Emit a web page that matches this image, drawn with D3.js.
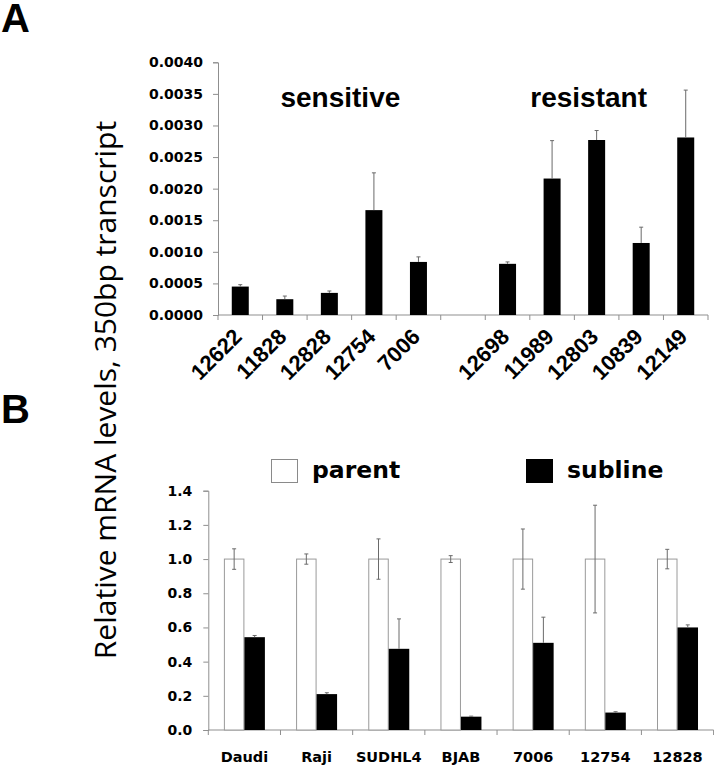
<!DOCTYPE html>
<html>
<head>
<meta charset="utf-8">
<script src="https://cdn.jsdelivr.net/npm/d3@7"></script>
<style>
  html, body { margin: 0; padding: 0; background: #fff; }
  svg { display: block; }
</style>
</head>
<body>
<svg id="chart" width="714" height="767"></svg>
<script>
// ---------- Data ----------
const sensitiveLines = ["12622", "11828", "12828", "12754", "7006"];
const resistantLines = ["12698", "11989", "12803", "10839", "12149"];
const sensitiveValues = [0.00045, 0.00025, 0.00035, 0.00166, 0.00084];
const sensitiveErrors = [0.00003, 0.00005, 0.00003, 0.00059, 0.00008];
const resistantValues = [0.00081, 0.00216, 0.00277, 0.00114, 0.00281];
const resistantErrors = [0.00003, 0.00060, 0.00015, 0.00025, 0.00075];
const yTicksA = [0, 0.0005, 0.001, 0.0015, 0.002, 0.0025, 0.003, 0.0035, 0.004];

const cellLines = ["Daudi", "Raji", "SUDHL4", "BJAB", "7006", "12754", "12828"];
const parentValues = [1.0, 1.0, 1.0, 1.0, 1.0, 1.0, 1.0];
const parentErrors = [0.06, 0.03, 0.118, 0.02, 0.176, 0.315, 0.057];
const sublineValues = [0.543, 0.21, 0.475, 0.078, 0.51, 0.102, 0.60];
const sublineErrors = [0.01, 0.008, 0.175, 0.003, 0.15, 0.005, 0.015];
const yTicksB = [0, 0.2, 0.4, 0.6, 0.8, 1.0, 1.2, 1.4];
const legendLabels = ["parent", "subline"];

const svg = d3.select("#chart");
const axisColor = "#8f8f8f";
const errColor = "#6a6a6a";
const boldWide = "'DejaVu Sans', Verdana, sans-serif";
const boldArial = "'Liberation Sans', Arial, Helvetica, sans-serif";

// Panel letters
svg.append("text").attr("x", 1).attr("y", 32).text("A")
  .attr("font-family", boldArial).attr("font-weight", "bold").attr("font-size", 40).attr("fill", "#000");
svg.append("text").attr("x", 1).attr("y", 423).text("B")
  .attr("font-family", boldArial).attr("font-weight", "bold").attr("font-size", 40).attr("fill", "#000");

// Shared y title
svg.append("text")
  .attr("transform", "translate(116,390) rotate(-90)")
  .attr("text-anchor", "middle")
  .attr("font-family", "'Open Sans', 'Noto Sans', sans-serif")
  .attr("font-size", 30)
  .attr("fill", "#000")
  .text("Relative mRNA levels, 350bp transcript");

// ---------- Panel A ----------
const domainA = [...sensitiveLines, "__gap__", ...resistantLines];
const dataA = sensitiveLines.map((c, i) => ({ cat: c, v: sensitiveValues[i], e: sensitiveErrors[i] }))
  .concat(resistantLines.map((c, i) => ({ cat: c, v: resistantValues[i], e: resistantErrors[i] })));

const xA = d3.scaleBand().domain(domainA).range([218, 708]).padding(0);
const yA = d3.scaleLinear().domain([0, 0.004]).range([315, 62.3]);
const gA = svg.append("g");

// y axis A
const yAxisA = d3.axisLeft(yA).tickValues(yTicksA).tickFormat(d3.format(".4f")).tickSize(5).tickPadding(10);
const gyA = gA.append("g").attr("transform", "translate(218,0)").call(yAxisA);
gyA.select(".domain").attr("stroke", axisColor);
gyA.selectAll(".tick line").attr("stroke", axisColor);
gyA.selectAll(".tick text").attr("font-family", boldWide).attr("font-weight", "bold")
  .attr("font-size", 14).attr("fill", "#000");

// x axis A (line + boundary ticks)
gA.append("line").attr("x1", xA.range()[0]).attr("x2", xA.range()[1])
  .attr("y1", yA(0)).attr("y2", yA(0)).attr("stroke", axisColor);
const boundariesA = domainA.map(d => xA(d)).concat([xA.range()[1]]);
gA.selectAll(".xtickA").data(boundariesA).enter().append("line")
  .attr("x1", d => d).attr("x2", d => d).attr("y1", yA(0)).attr("y2", yA(0) + 5)
  .attr("stroke", axisColor);

// bars A
const barWA = 17;
gA.selectAll(".barA").data(dataA).enter().append("rect")
  .attr("x", d => xA(d.cat) + xA.bandwidth() / 2 - barWA / 2)
  .attr("y", d => yA(d.v))
  .attr("width", barWA)
  .attr("height", d => yA(0) - yA(d.v))
  .attr("fill", "#000");

// error bars A (upward)
const errA = gA.selectAll(".errA").data(dataA).enter().append("g");
errA.append("line")
  .attr("x1", d => xA(d.cat) + xA.bandwidth() / 2).attr("x2", d => xA(d.cat) + xA.bandwidth() / 2)
  .attr("y1", d => yA(d.v)).attr("y2", d => yA(d.v + d.e))
  .attr("stroke", errColor).attr("stroke-width", 1);
errA.append("line")
  .attr("x1", d => xA(d.cat) + xA.bandwidth() / 2 - 2).attr("x2", d => xA(d.cat) + xA.bandwidth() / 2 + 2)
  .attr("y1", d => yA(d.v + d.e)).attr("y2", d => yA(d.v + d.e))
  .attr("stroke", errColor).attr("stroke-width", 1);

// x labels A (rotated)
gA.selectAll(".xlabA").data(dataA).enter().append("text")
  .attr("transform", d => `translate(${xA(d.cat) + xA.bandwidth() / 2 + 3},${yA(0) + 23}) rotate(-45)`)
  .attr("text-anchor", "end")
  .attr("font-family", boldArial).attr("font-weight", "bold").attr("font-size", 22)
  .attr("fill", "#000")
  .text(d => d.cat);

// group titles
const groupTitles = [
  { t: "sensitive", cats: sensitiveLines, shift: 11 },
  { t: "resistant", cats: resistantLines, shift: -8 }
];
gA.selectAll(".grpT").data(groupTitles).enter().append("text")
  .attr("x", d => (xA(d.cats[0]) + xA(d.cats[d.cats.length - 1]) + xA.bandwidth()) / 2 + d.shift)
  .attr("y", 107)
  .attr("text-anchor", "middle")
  .attr("font-family", boldArial).attr("font-weight", "bold").attr("font-size", 28)
  .attr("fill", "#000")
  .text(d => d.t);

// ---------- Panel B ----------
const dataB = cellLines.map((c, i) => ({
  cat: c, p: parentValues[i], pe: parentErrors[i], s: sublineValues[i], se: sublineErrors[i]
}));
const xB = d3.scaleBand().domain(cellLines).range([208.3, 713.6]).padding(0);
const yB = d3.scaleLinear().domain([0, 1.4]).range([730, 490.7]);
const gB = svg.append("g");
const barWB = 20.5;

const yAxisB = d3.axisLeft(yB).tickValues(yTicksB).tickFormat(d3.format(".1f")).tickSize(5).tickPadding(11);
const gyB = gB.append("g").attr("transform", "translate(208.3,0)").call(yAxisB);
gyB.select(".domain").attr("stroke", axisColor);
gyB.selectAll(".tick line").attr("stroke", axisColor);
gyB.selectAll(".tick text").attr("font-family", boldWide).attr("font-weight", "bold")
  .attr("font-size", 14).attr("fill", "#000");

gB.append("line").attr("x1", xB.range()[0]).attr("x2", xB.range()[1])
  .attr("y1", yB(0)).attr("y2", yB(0)).attr("stroke", axisColor);
const boundariesB = cellLines.map(d => xB(d)).concat([xB.range()[1]]);
gB.selectAll(".xtickB").data(boundariesB).enter().append("line")
  .attr("x1", d => d).attr("x2", d => d).attr("y1", yB(0)).attr("y2", yB(0) + 5)
  .attr("stroke", axisColor);

const cx = d => xB(d.cat) + xB.bandwidth() / 2;

// parent bars
gB.selectAll(".barP").data(dataB).enter().append("rect")
  .attr("x", d => cx(d) - barWB + 0.5)
  .attr("y", d => yB(d.p))
  .attr("width", barWB - 1)
  .attr("height", d => yB(0) - yB(d.p))
  .attr("fill", "#fff").attr("stroke", "#9a9a9a").attr("stroke-width", 1);
// subline bars
gB.selectAll(".barS").data(dataB).enter().append("rect")
  .attr("x", d => cx(d))
  .attr("y", d => yB(d.s))
  .attr("width", barWB)
  .attr("height", d => yB(0) - yB(d.s))
  .attr("fill", "#000");

// parent error bars (both directions)
const eP = gB.selectAll(".errP").data(dataB).enter().append("g");
eP.append("line")
  .attr("x1", d => cx(d) - barWB / 2).attr("x2", d => cx(d) - barWB / 2)
  .attr("y1", d => yB(d.p - d.pe)).attr("y2", d => yB(d.p + d.pe))
  .attr("stroke", errColor);
eP.append("line")
  .attr("x1", d => cx(d) - barWB / 2 - 2).attr("x2", d => cx(d) - barWB / 2 + 2)
  .attr("y1", d => yB(d.p + d.pe)).attr("y2", d => yB(d.p + d.pe)).attr("stroke", errColor);
eP.append("line")
  .attr("x1", d => cx(d) - barWB / 2 - 2).attr("x2", d => cx(d) - barWB / 2 + 2)
  .attr("y1", d => yB(d.p - d.pe)).attr("y2", d => yB(d.p - d.pe)).attr("stroke", errColor);

// subline error bars (upward)
const eS = gB.selectAll(".errS").data(dataB).enter().append("g");
eS.append("line")
  .attr("x1", d => cx(d) + barWB / 2).attr("x2", d => cx(d) + barWB / 2)
  .attr("y1", d => yB(d.s)).attr("y2", d => yB(d.s + d.se))
  .attr("stroke", errColor);
eS.append("line")
  .attr("x1", d => cx(d) + barWB / 2 - 2).attr("x2", d => cx(d) + barWB / 2 + 2)
  .attr("y1", d => yB(d.s + d.se)).attr("y2", d => yB(d.s + d.se)).attr("stroke", errColor);

// x labels B
gB.selectAll(".xlabB").data(dataB).enter().append("text")
  .attr("x", d => cx(d)).attr("y", 762)
  .attr("text-anchor", "middle")
  .attr("font-family", boldWide).attr("font-weight", "bold").attr("font-size", 14.5)
  .attr("fill", "#000")
  .text(d => d.cat);

// legend
const legendX = [271, 526];
const legend = gB.selectAll(".leg").data(legendLabels).enter().append("g")
  .attr("transform", (d, i) => `translate(${legendX[i]},459)`);
legend.append("rect").attr("x", 0.5).attr("y", 0.5).attr("width", 26).attr("height", 23)
  .attr("fill", (d, i) => i === 0 ? "#fff" : "#000")
  .attr("stroke", (d, i) => i === 0 ? "#8a8a8a" : "#000");
legend.append("text").attr("x", 41).attr("y", 19)
  .attr("font-family", boldWide).attr("font-weight", "bold").attr("font-size", 23.5)
  .attr("fill", "#000")
  .text(d => d);
</script>
</body>
</html>
